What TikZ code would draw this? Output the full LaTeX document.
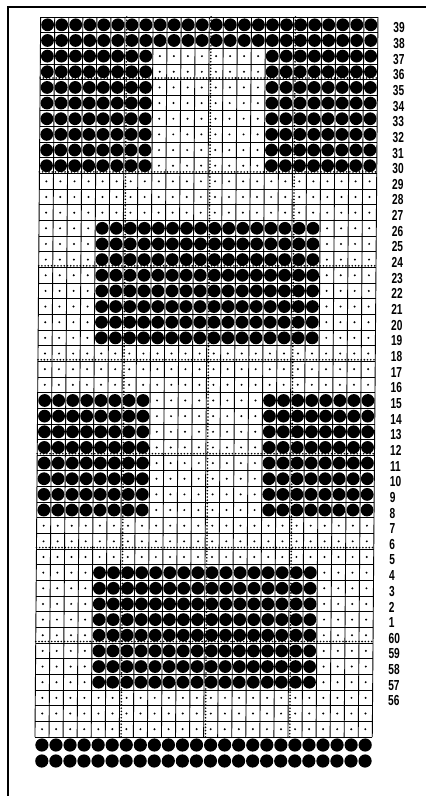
\documentclass[tikz,border=0pt]{standalone}
\usepackage{fontspec}
\setmainfont{Liberation Sans}
\tikzset{
  gridline/.style={line width=0.9pt, black},
  guide/.style={line width=1.8pt, black, dash pattern=on 0pt off 3.2pt, line cap=round},
  frameline/.style={line width=2.6pt, black},
  bigdot/.style={fill=black},
  smalldot/.style={fill=black},
  lab/.style={anchor=west, inner sep=0pt, font=\fontsize{14.5pt}{14.5pt}\selectfont\bfseries}
}
\def\cw{14.054}
\def\rh{15.652}
\def\gx{40.8}
\def\gy{17}
\begin{document}
\begin{tikzpicture}[x=1pt,y=-1pt]
\useasboundingbox (0,0) rectangle (426,796);
% outer frame (left and top)
\coordinate (fb) at (8,796);
\coordinate (fc) at (8,6.8);
\coordinate (fr) at (426,6.8);
\draw[frameline] (fb) -- (fc) -- (fr);
\begin{scope}[xslant=0.0079]
  % grid lines
  \foreach \c in {0,...,24}
    \draw[gridline] ({\gx+\cw*\c},\gy) -- ({\gx+\cw*\c},{\gy+46*\rh});
  \foreach \r in {0,...,46}
    \draw[gridline] (\gx,{\gy+\rh*\r}) -- ({\gx+24*\cw},{\gy+\rh*\r});
  % dotted guide lines
  \foreach \c in {6,12,18}
    \draw[guide] ({\gx+\cw*\c+1.8},\gy) -- ({\gx+\cw*\c+1.8},{\gy+46*\rh});
  \foreach \r in {4,10,...,40}
    \draw[guide] (\gx,{\gy+\rh*\r-1.6}) -- ({\gx+24*\cw},{\gy+\rh*\r-1.6});
  % cells
  \foreach \r in {1,...,46}{
    \foreach \c in {1,...,24}{
      \pgfmathtruncatemacro\f{(\r<3) || (((\r>2 && \r<11) || (\r>24 && \r<33)) && (\c<9 || \c>16)) || (((\r>13 && \r<22) || (\r>35 && \r<44)) && (\c>4 && \c<21))}
      \ifnum\f=1
        \fill[bigdot] ({\gx+\cw*(\c-0.5)},{\gy+\rh*(\r-0.5)}) circle[radius=6.4];
      \else
        \fill[smalldot] ({\gx+\cw*(\c-0.5)},{\gy+\rh*(\r-0.5)}) circle[radius=1.1];
      \fi
    }
  }
  % two rows of circles below the grid
  \foreach \yy in {745,761}
    \foreach \c in {1,...,24}
      \fill[bigdot] ({\gx+\cw*(\c-0.5)},\yy) circle[radius=6.6];
  % row labels
  \foreach \t [count=\r] in {39,38,...,1,60,59,...,56}
    \node[lab] (lab\t) at (393.5,{\gy+\rh*(\r-0.5)+3}) {\scalebox{0.7}[1]{\t}};
\end{scope}
\end{tikzpicture}
\end{document}
